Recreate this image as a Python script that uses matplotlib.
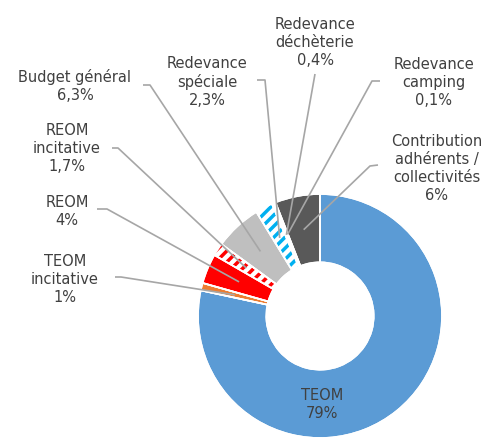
import numpy as np
import matplotlib.pyplot as plt

plt.rcParams['hatch.linewidth'] = 2.5

# parts, clockwise from the top (last one ends at 12 o'clock)
labels = ["TEOM\n79%", "TEOM\nincitative\n1%", "REOM\n4%", "REOM\nincitative\n1,7%",
          "Budget général\n6,3%", "Redevance\nspéciale\n2,3%", "Redevance\ndéchèterie\n0,4%",
          "Redevance\ncamping\n0,1%", "Contribution\nadhérents /\ncollectivités\n6%"]
values = [79, 1, 4, 1.7, 6.3, 2.3, 0.4, 0.1, 6]
colors = ["#5B9BD5", "#ED7D31", "#FF0000", "white", "#BFBFBF", "white", "white", "white", "#595959"]
hatch_colors = [None, None, None, "#FF0000", None, "#00B0F0", None, None, None]

W, H = 492, 448
cx, cy, R = 320, 316, 122   # pie centre and radius in pixels

# label centres and leader start/elbow, in pixels
lab_xy = [(322, 405), (65, 279), (67, 211), (67, 148), (75, 86),
          (207, 82), (315, 42), (434, 82), (437, 168)]
lead = [None, [(115, 277), (121, 277)], [(97, 209), (107, 209)], [(112, 148), (118, 148)],
        [(143, 85), (150, 85)], [(257, 80), (265, 80)], [(315, 74)],
        [(380, 81), (372, 81)], [(378, 165), (370, 166)]]


def d(p):
    return ((p[0] - cx) / R, (cy - p[1]) / R)


fig = plt.figure(figsize=(W / 100, H / 100), dpi=100)
ax = fig.add_axes([0, 0, 1, 1])

wedges, _ = ax.pie(values, colors=colors, startangle=90, counterclock=False,
                   radius=1, wedgeprops=dict(width=0.56, edgecolor="white", linewidth=1.2))

for w, hc in zip(wedges, hatch_colors):
    if hc:
        w.set_edgecolor(hc)
        w.set_linewidth(0)
        w.set_hatch("///")

# white separators on top of everything
ax.pie(values, startangle=90, counterclock=False, radius=1,
       wedgeprops=dict(width=0.56, fill=False, edgecolor="white", linewidth=1.2))

ax.set_xlim(-cx / R, (W - cx) / R)
ax.set_ylim(-(H - cy) / R, cy / R)
ax.axis("off")

txt = "#404040"
for i, (w, lab) in enumerate(zip(wedges, labels)):
    tx, ty = d(lab_xy[i])
    ax.text(tx, ty, lab, ha="center", va="center", fontsize=10.5, color=txt,
            linespacing=1.25)
    if lead[i] is None:
        continue
    mid = np.deg2rad((w.theta1 + w.theta2) / 2)
    end = (0.72 * np.cos(mid), 0.72 * np.sin(mid))
    pts = [d(p) for p in lead[i]] + [end]
    ax.plot([p[0] for p in pts], [p[1] for p in pts], color="#A6A6A6", lw=1.2,
            zorder=3, solid_capstyle="butt")

fig.savefig("out.png", dpi=100)
